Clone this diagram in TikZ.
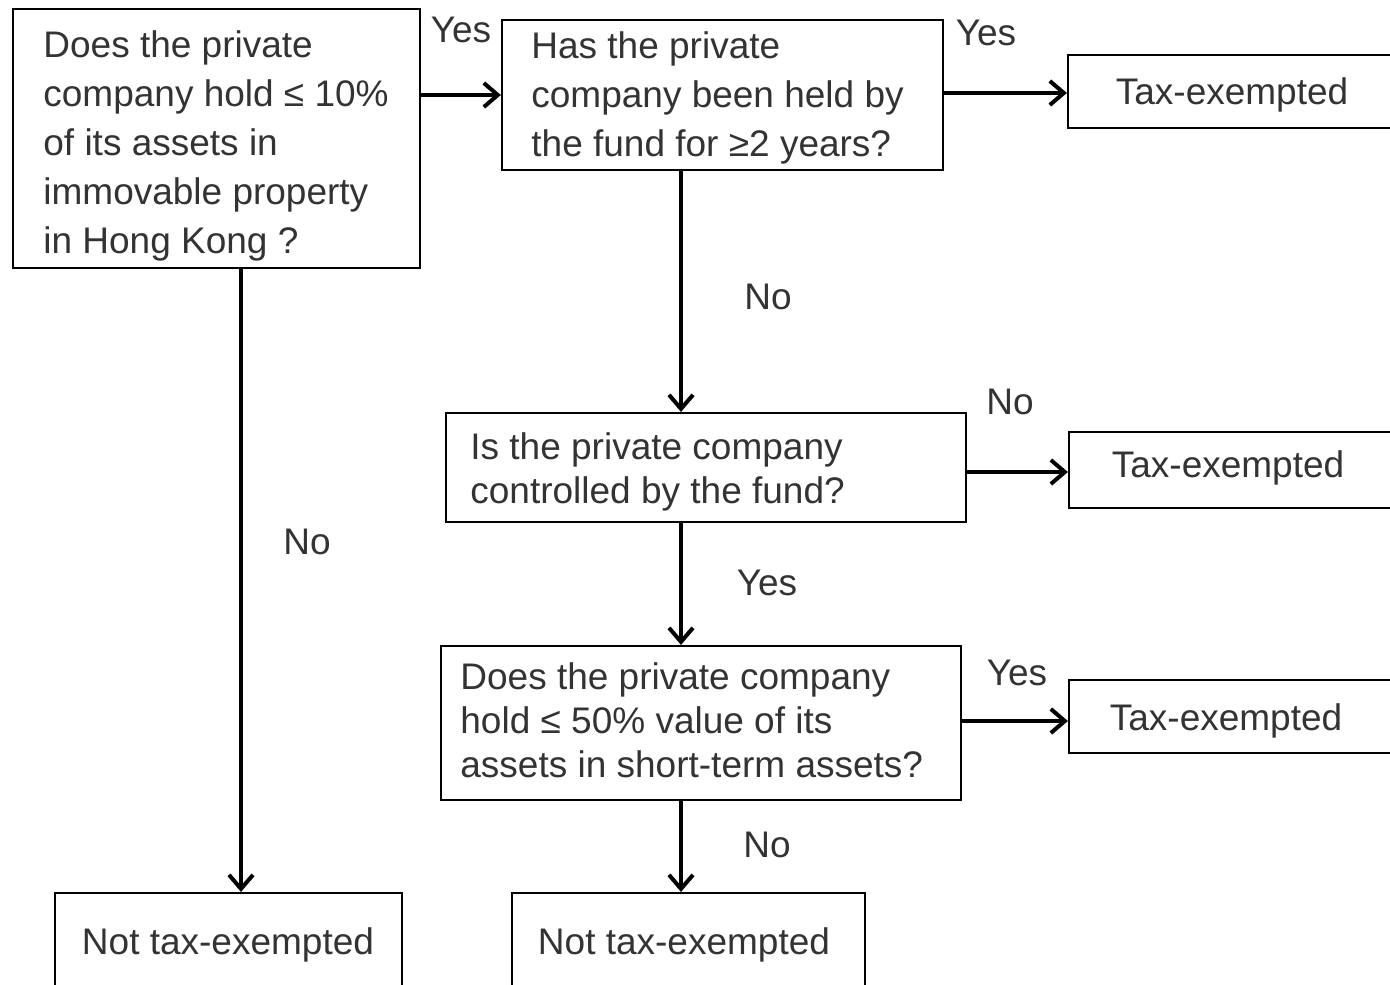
\documentclass[tikz,border=0pt]{standalone}
\usepackage{fontspec}
\setmainfont{Liberation Sans}
\usetikzlibrary{arrows.meta,fit}
\definecolor{txtc}{HTML}{333333}
\begin{document}
\begin{tikzpicture}[x=0.5pt,y=-0.5pt,
  box/.style={draw=black, line width=1.1pt, inner sep=0pt},
  qtxt/.style={text=txtc, font=\fontsize{18.5pt}{24.5pt}\selectfont, inner sep=0pt, align=left, anchor=west},
  qtxtb/.style={text=txtc, font=\fontsize{18.5pt}{22pt}\selectfont, inner sep=0pt, align=left, anchor=west},
  rtxt/.style={text=txtc, font=\fontsize{18.5pt}{22pt}\selectfont, inner sep=0pt, anchor=base},
  arr/.style={line width=2pt, -{Straight Barb[length=7pt,width=12pt]}},
  lab/.style={text=txtc, font=\fontsize{18.5pt}{22pt}\selectfont, inner sep=0pt}]
\clip (0,0) rectangle (1390,984);
% boxes
\node[box, fit={(13,9) (420,268)}] (A) {};
\node[box, fit={(502,20) (943,170)}] (B) {};
\node[box, fit={(1068,55) (1400,128)}] (C) {};
\node[box, fit={(446,413) (966,522)}] (D) {};
\node[box, fit={(1069,432) (1400,508)}] (E) {};
\node[box, fit={(441,646) (961,800)}] (F) {};
\node[box, fit={(1069,680) (1400,753)}] (G) {};
\node[box, fit={(55,893) (402,1000)}] (H) {};
\node[box, fit={(512,893) (865,1000)}] (I) {};
% texts
\node[qtxt] (At) at (43,145.7) {Does the private\\company hold ≤ 10\%\\of its assets in\\immovable property\\in Hong Kong ?};
\node[qtxt] (Bt) at (531,98.2) {Has the private\\company been held by\\the fund for ≥2 years?};
\node[rtxt] (Ct) at (1232,105) {Tax-exempted};
\node[qtxtb] (Dt) at (470,471.7) {Is the private company\\controlled by the fund?};
\node[rtxt] (Et) at (1228,477) {Tax-exempted};
\node[qtxtb] (Ft) at (460,720.2) {Does the private company\\hold ≤ 50\% value of its\\assets in short-term assets?};
\node[rtxt] (Gt) at (1226,730) {Tax-exempted};
\node[rtxt] (Ht) at (228,954) {Not tax-exempted};
\node[rtxt] (It) at (684,954) {Not tax-exempted};
% guide coordinates
\coordinate (vx) at (681,0);
\coordinate (hx) at (241,0);
% connectors
\draw[arr] (A.east |- B.west) -- (B.west);
\draw[arr] (B.east |- 0,93) -- (C.west |- 0,93);
\draw[arr] (B.south -| vx) -- (D.north -| vx);
\draw[arr] (D.east |- 0,472) -- (E.west |- 0,472);
\draw[arr] (D.south -| vx) -- (F.north -| vx);
\draw[arr] (F.east |- 0,721) -- (G.west |- 0,721);
\draw[arr] (F.south -| vx) -- (I.north -| vx);
\draw[arr] (A.south -| hx) -- (H.north -| hx);
% labels
\node[lab] (l1) at (461,30) {Yes};
\node[lab] (l2) at (986,33) {Yes};
\node[lab] (l3) at (768,297) {No};
\node[lab] (l4) at (1010,402) {No};
\node[lab] (l5) at (767,583) {Yes};
\node[lab] (l6) at (1017,673) {Yes};
\node[lab] (l7) at (767,845) {No};
\node[lab] (l8) at (307,542) {No};
\end{tikzpicture}
\end{document}
